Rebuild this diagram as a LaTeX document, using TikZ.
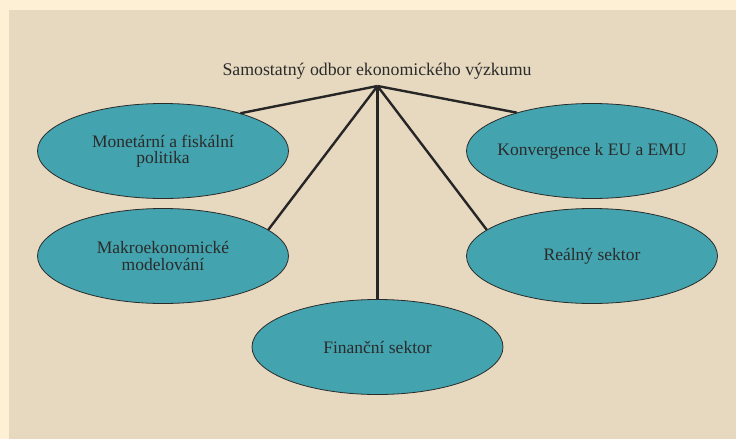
\documentclass[tikz,border=0pt]{standalone}
\usepackage{fontspec}
\setmainfont{Liberation Serif}
\usetikzlibrary{shapes.geometric}
\definecolor{outerbg}{HTML}{FEF0D5}
\definecolor{panel}{HTML}{E7D9BF}
\definecolor{tealfill}{HTML}{43A3AE}
\definecolor{ink}{HTML}{2B2B2B}
\begin{document}
\begin{tikzpicture}[x=1pt,y=-1pt,
  oval/.style={ellipse, draw=ink, line width=0.8pt, fill=tealfill,
    minimum width=251pt, minimum height=95pt, inner xsep=-25pt, inner ysep=0pt, align=center,
    font=\fontsize{17.5}{16.5}\selectfont, text=ink},
  link/.style={line width=2.4pt, draw=black!85}]
\fill[outerbg] (0,0) rectangle (736,439);
\fill[panel] (9,10) rectangle (736,439);
\useasboundingbox (0,0) rectangle (736,439);
\node[font=\fontsize{17.8}{18}\selectfont, text=ink] (title) at (377,71) {Samostatný odbor ekonomického výzkumu};
\coordinate (hub) at (377.5,86);
\node[oval] (mon) at (163,151) {Monetární a fiskální\\politika};
\node[oval] (konv) at (592,151) {Konvergence k EU a EMU};
\node[oval] (makro) at (163,256) {Makroekonomické\\modelování};
\node[oval] (real) at (592,256) {Reálný sektor};
\node[oval] (fin) at (377.5,347) {Finanční sektor};
\draw[link] (hub) -- (mon.26);
\draw[link] (hub) -- (konv.153);
\draw[link] (hub) -- (makro.14);
\draw[link] (hub) -- (real.166);
\draw[link] (hub) -- (fin.north);
\end{tikzpicture}
\end{document}
